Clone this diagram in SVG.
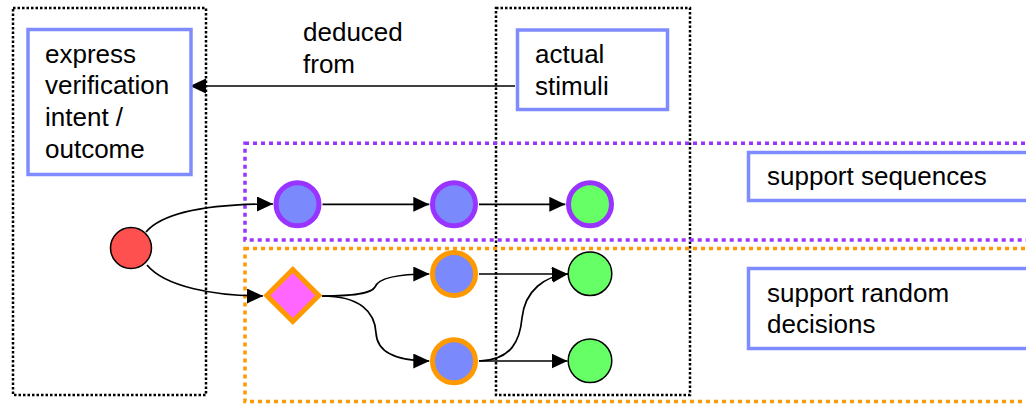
<svg xmlns="http://www.w3.org/2000/svg" width="1026" height="404" viewBox="0 0 1026 404">
<style>
text{font-family:"Liberation Sans",Arial,sans-serif;font-size:26px;fill:#000}
.dot{fill:none;stroke:#000;stroke-width:2.5;stroke-dasharray:2.5 2}
.pur{fill:none;stroke:#9933ff;stroke-width:3.5;stroke-dasharray:4 4}
.org{fill:none;stroke:#ff9900;stroke-width:3.5;stroke-dasharray:4 4}
.box{fill:#fff;stroke:#7f8cff;stroke-width:3.5}
.edge{fill:none;stroke:#000;stroke-width:1.7;marker-end:url(#ah)}
.pc{fill:#7a89fc;stroke:#9933ff;stroke-width:5}
.oc{fill:#7a89fc;stroke:#ff9900;stroke-width:5}
.gc{fill:#66ff66;stroke:#000;stroke-width:1.5}
</style>
<defs>
<marker id="ah" markerUnits="userSpaceOnUse" markerWidth="16" markerHeight="15" refX="16" refY="7.5" orient="auto" viewBox="0 0 16 15">
<path d="M0,0 L16,7.5 L0,15 z" fill="#000"/>
</marker>
</defs>
<rect width="1026" height="404" fill="#fff"/>
<g id="containers">
<rect class="dot" x="13" y="8" width="193" height="387"/>
<rect class="dot" x="496" y="8" width="194" height="387"/>
<rect class="pur" x="245" y="143.3" width="820" height="96.7"/>
<rect class="org" x="245" y="248.5" width="820" height="153"/>
</g>
<g id="connectors">
<path class="edge" d="M515,86 L190,86"/>
<path class="edge" d="M146,232 C165,210 215,204 273,204"/>
<path class="edge" d="M147,265 C165,287 215,296 263,296"/>
<path class="edge" d="M322.5,204.3 L429.3,204.3"/>
<path class="edge" d="M479,204.3 L565.3,204.3"/>
<path class="edge" d="M322,296 C362,296 372,292 375,287 C378,279 395,274 429.3,274"/>
<path class="edge" d="M322,296 C360,296 375,312 376,333 C377,352 395,361 429.3,361"/>
<path class="edge" d="M479,274 L567.5,274"/>
<path class="edge" d="M479,361 L567.5,361"/>
<path class="edge" d="M479,361 C512,360 520,340 522,318 C525,290 545,276 568,274"/>
<text x="303" y="40.5">deduced</text>
<text x="303" y="72.5">from</text>
</g>
<g id="express">
<rect class="box" x="28" y="29.5" width="163" height="145"/>
<text x="45" y="62.5">express</text>
<text x="45" y="94.3">verification</text>
<text x="45" y="126">intent /</text>
<text x="45" y="157.7">outcome</text>
</g>
<g id="stimuli">
<rect class="box" x="517.5" y="30" width="150" height="79.5"/>
<text x="535" y="63.3">actual</text>
<text x="535" y="95">stimuli</text>
</g>
<g id="seq-label">
<rect class="box" x="748.5" y="152.5" width="300" height="48"/>
<text x="767" y="185">support sequences</text>
</g>
<g id="rand-label">
<rect class="box" x="748.5" y="268.5" width="300" height="80"/>
<text x="767" y="301.7">support random</text>
<text x="767" y="332.7">decisions</text>
</g>
<g id="start"><circle cx="131" cy="248" r="20.5" fill="#ff5050" stroke="#000" stroke-width="1.5"/></g>
<g id="seq1"><circle class="pc" cx="297.5" cy="204.3" r="21.5"/></g>
<g id="seq2"><circle class="pc" cx="454" cy="204.3" r="21.5"/></g>
<g id="seq3"><circle cx="590" cy="204.3" r="21.5" fill="#66ff66" stroke="#9933ff" stroke-width="5"/></g>
<g id="decision"><polygon points="292.8,269.5 318.8,295.5 292.8,321.5 266.8,295.5" fill="#ff66ff" stroke="#ff9900" stroke-width="5"/></g>
<g id="rand1"><circle class="oc" cx="454" cy="274" r="21.5"/></g>
<g id="rand2"><circle class="oc" cx="454" cy="361.3" r="21.5"/></g>
<g id="end1"><circle class="gc" cx="590" cy="273.7" r="21.8"/></g>
<g id="end2"><circle class="gc" cx="590" cy="360.8" r="21.8"/></g>
</svg>
